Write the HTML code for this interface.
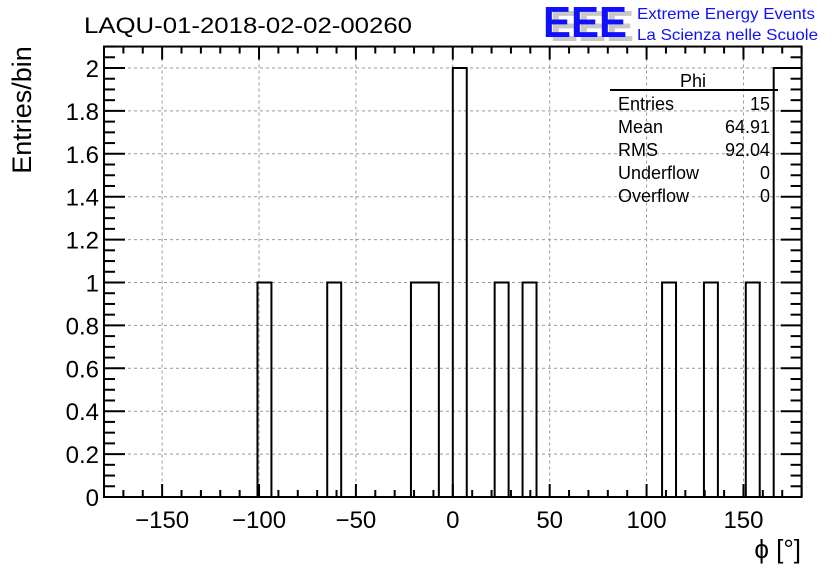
<!DOCTYPE html>
<html><head><meta charset="utf-8"><style>
body{margin:0;background:#fff;}
svg{display:block;font-family:"Liberation Sans",Arial,sans-serif;}
</style></head><body>
<svg id="c" width="836" height="572" xmlns="http://www.w3.org/2000/svg">
<g id="grid"></g>
<g id="hist"></g>
<g id="axes"></g>
<text x="84" y="33" font-size="22" textLength="328" lengthAdjust="spacingAndGlyphs">LAQU-01-2018-02-02-00260</text>
<g>
<text x="550" y="41" font-size="44" font-weight="bold" fill="#c8c8c8" textLength="84" lengthAdjust="spacingAndGlyphs">EEE</text>
<text x="543" y="37" font-size="44" font-weight="bold" fill="#1010ff" textLength="84" lengthAdjust="spacingAndGlyphs">EEE</text>
<text x="637" y="19" font-size="16" fill="#1010ff" textLength="178" lengthAdjust="spacingAndGlyphs">Extreme Energy Events</text>
<text x="637" y="40" font-size="16" fill="#1010ff" textLength="181" lengthAdjust="spacingAndGlyphs">La Scienza nelle Scuole</text>
</g>
<g font-size="18">
<text x="693" y="87" text-anchor="middle">Phi</text>
<line x1="610" y1="90" x2="778" y2="90" stroke="#000" stroke-width="2"/>
<text x="618" y="110">Entries</text><text x="770" y="110" text-anchor="end">15</text>
<text x="618" y="133">Mean</text><text x="770" y="133" text-anchor="end">64.91</text>
<text x="618" y="156">RMS</text><text x="770" y="156" text-anchor="end">92.04</text>
<text x="618" y="179">Underflow</text><text x="770" y="179" text-anchor="end">0</text>
<text x="618" y="202">Overflow</text><text x="770" y="202" text-anchor="end">0</text>
</g>
<text x="0" y="0" font-size="27" transform="translate(31 110) rotate(-90)" text-anchor="middle">Entries/bin</text>
<text x="801" y="558" font-size="26" text-anchor="end">ϕ [°]</text>
</svg>
<script>
const counts=[0,0,0,0,0,0,0,0,0,0,0,1,0,0,0,0,1,0,0,0,0,0,1,1,0,2,0,0,1,0,1,0,0,0,0,0,0,0,0,0,1,0,0,1,0,0,1,0,2,2];
const xTicks=[-150,-100,-50,0,50,100,150];
const yTicks=[0,0.2,0.4,0.6,0.8,1,1.2,1.4,1.6,1.8,2];
const xMin=-180,xMax=180,yMax=2.1;
const L=104,R=801.6,B=497,T=B-2.1*214.5;
const sx=v=>L+(v-xMin)/(xMax-xMin)*(R-L);
const sy=v=>B-v/yMax*(B-T);
const NS="http://www.w3.org/2000/svg";
function mk(p,t,a){const e=document.createElementNS(NS,t);for(const k in a)e.setAttribute(k,a[k]);p.appendChild(e);return e;}
const grid=document.getElementById('grid'),axes=document.getElementById('axes'),hist=document.getElementById('hist');
xTicks.forEach(v=>{const l=mk(grid,'line',{x1:sx(v),x2:sx(v),y1:T,y2:B,stroke:'#999','stroke-dasharray':'3,3'});

});
yTicks.forEach(v=>{const l=mk(grid,'line',{x1:L,x2:R,y1:sy(v),y2:sy(v),stroke:'#999','stroke-dasharray':'3,3'});

});
const bw=(xMax-xMin)/counts.length;
let d='M'+sx(xMin)+','+sy(0);
counts.forEach((c,i)=>{d+=' L'+sx(xMin+i*bw)+','+sy(c)+' L'+sx(xMin+(i+1)*bw)+','+sy(c);});
d+=' L'+sx(xMax)+','+sy(0);
const h=mk(hist,'path',{d:d,fill:'none',stroke:'#000','stroke-width':2});


const f=mk(axes,'rect',{x:L,y:T,width:R-L,height:B-T,fill:'none',stroke:'#000','stroke-width':2});


for(let v=-180;v<=180;v+=10){const maj=v%50===0;const len=maj?13:7;
mk(axes,'line',{x1:sx(v),x2:sx(v),y1:B,y2:B-len,stroke:'#000','stroke-width':2});
mk(axes,'line',{x1:sx(v),x2:sx(v),y1:T,y2:T+len,stroke:'#000','stroke-width':2});}
xTicks.forEach(v=>{const t=mk(axes,'text',{x:sx(v),y:528,'font-size':24,'text-anchor':'middle'});t.textContent=v<0?'\u2212'+(-v):String(v);

});
for(let k=0;k<=42;k++){const v=k*0.05;const maj=k%4===0;const len=maj?21:11;
mk(axes,'line',{x1:L,x2:L+len,y1:sy(v),y2:sy(v),stroke:'#000','stroke-width':2});
mk(axes,'line',{x1:R,x2:R-len,y1:sy(v),y2:sy(v),stroke:'#000','stroke-width':2});}
yTicks.forEach(v=>{const t=mk(axes,'text',{x:99,y:sy(v)+9,'font-size':24,'text-anchor':'end'});t.textContent=String(Math.round(v*10)/10);

});
</script>
</body></html>
